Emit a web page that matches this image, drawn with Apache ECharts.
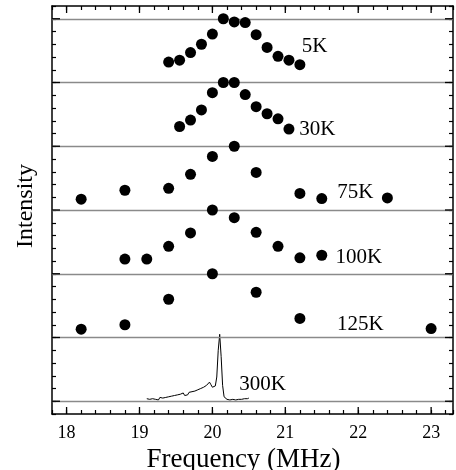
<!DOCTYPE html>
<html>
<head>
<meta charset="utf-8">
<script src="https://cdn.jsdelivr.net/npm/echarts@6/dist/echarts.min.js"></script>
<style>
html,body{margin:0;padding:0;background:#fff;}
#chart{width:456px;height:470px;}
</style>
</head>
<body>
<div id="chart"></div>
<script>
// ---- Data ----
const freq5K = [19.4, 19.55, 19.7, 19.85, 20.0, 20.15, 20.3, 20.45, 20.6, 20.75, 20.9, 21.05, 21.2];
const int5K  = [0.32, 0.35, 0.47, 0.60, 0.76, 1.00, 0.95, 0.94, 0.75, 0.55, 0.41, 0.35, 0.28];
const freq30K = [19.55, 19.7, 19.85, 20.0, 20.15, 20.3, 20.45, 20.6, 20.75, 20.9, 21.05];
const int30K  = [0.31, 0.41, 0.57, 0.84, 1.00, 1.00, 0.81, 0.62, 0.51, 0.43, 0.27];
const freq75K = [18.2, 18.8, 19.4, 19.7, 20.0, 20.3, 20.6, 21.2, 21.5, 22.4];
const int75K  = [0.17, 0.31, 0.34, 0.56, 0.84, 1.00, 0.59, 0.26, 0.18, 0.19];
const freq100K = [18.8, 19.1, 19.4, 19.7, 20.0, 20.3, 20.6, 20.9, 21.2, 21.5];
const int100K  = [0.23, 0.23, 0.43, 0.64, 1.00, 0.88, 0.65, 0.43, 0.25, 0.29];
const freq125K = [18.2, 18.8, 19.4, 20.0, 20.6, 21.2, 23.0];
const int125K  = [0.13, 0.20, 0.60, 1.00, 0.71, 0.30, 0.14];
const freq300K = [19.10,19.12,19.14,19.16,19.18,19.20,19.22,19.24,19.26,19.28,19.30,19.32,19.34,19.36,19.38,19.40,19.42,19.44,19.46,19.48,19.50,19.52,19.54,19.56,19.58,19.60,19.62,19.64,19.66,19.68,19.70,19.72,19.74,19.76,19.78,19.80,19.82,19.84,19.86,19.88,19.90,19.92,19.94,19.96,19.98,20.00,20.02,20.04,20.06,20.08,20.10,20.12,20.14,20.16,20.18,20.20,20.22,20.24,20.26,20.28,20.30,20.32,20.34,20.36,20.38,20.40,20.42,20.44,20.46,20.48,20.50];
const int300K  = [0.04,0.05,0.03,0.05,0.04,0.06,0.03,0.05,0.02,0.06,0.04,0.05,0.02,0.06,0.04,0.07,0.05,0.08,0.06,0.09,0.06,0.10,0.07,0.11,0.08,0.13,0.09,0.12,0.10,0.14,0.11,0.15,0.12,0.16,0.13,0.18,0.15,0.20,0.17,0.22,0.20,0.25,0.27,0.30,0.26,0.22,0.20,0.24,0.38,0.80,1.05,0.70,0.25,0.07,0.05,0.03,0.04,0.02,0.05,0.03,0.04,0.02,0.04,0.03,0.05,0.03,0.05,0.04,0.06,0.04,0.05];
const offsets = {'5K': 5, '30K': 4, '75K': 3, '100K': 2, '125K': 1, '300K': 0};
const labelText = ['5K', '30K', '75K', '100K', '125K', '300K'];
const labelFreq = [21.40, 21.44, 21.96, 22.01, 22.03, 20.69];
const labelInt  = [5.56, 4.27, 3.28, 2.25, 1.21, 0.27];
const freqTicks = [18, 19, 20, 21, 22, 23];
const baselines = [0, 1, 2, 3, 4, 5, 6];

// ---- Build ----
const FONT = 'Liberation Serif';
const XMIN = 17.8, XMAX = 23.3, YMIN = -0.2, YMAX = 6.2;

function pts(f, v, off) { return f.map((x, i) => [x, +(v[i] + off).toFixed(3)]); }

const tickStyle = {color: '#000', width: 1.2};
function xAx(pos, labels, extra) {
  return Object.assign({
    type: 'value', position: pos, min: XMIN, max: XMAX, interval: 0.2,
    axisLine: {show: true, onZero: false, lineStyle: {color: '#000', width: 1.5}},
    axisTick: {show: true, inside: true, length: 4, lineStyle: tickStyle},
    axisLabel: labels ? {customValues: freqTicks, fontFamily: FONT, fontSize: 18, color: '#000', margin: 10} : {show: false},
    splitLine: {show: false}
  }, extra || {});
}
function yAx(pos, extra) {
  return Object.assign({
    type: 'value', position: pos, min: YMIN, max: YMAX, interval: 0.2,
    axisLine: {show: true, onZero: false, lineStyle: {color: '#000', width: 1.5}},
    axisTick: {show: true, inside: true, length: 4, lineStyle: tickStyle},
    axisLabel: {show: false},
    splitLine: {show: false}
  }, extra || {});
}

const scatterSets = [
  ['5K', freq5K, int5K], ['30K', freq30K, int30K], ['75K', freq75K, int75K],
  ['100K', freq100K, int100K], ['125K', freq125K, int125K]
];
const series = scatterSets.map(s => ({
  type: 'scatter', name: s[0], data: pts(s[1], s[2], offsets[s[0]]),
  symbol: 'circle', symbolSize: 11, itemStyle: {color: '#000', opacity: 1}, silent: true, z: 5
}));
series.push({
  type: 'line', name: '300K', data: pts(freq300K, int300K, offsets['300K']),
  showSymbol: false, symbol: 'none', lineStyle: {color: '#000', width: 1}, z: 4, silent: true,
  markLine: {
    silent: true, symbol: 'none', animation: false,
    label: {show: false},
    lineStyle: {color: '#8a8a8a', width: 1.3, type: 'solid'},
    data: baselines.map(b => ({yAxis: b}))
  }
});
// major ticks on all four sides, placed through the axes' scales
const majorTickData = []
  .concat(freqTicks.map(v => [v, YMIN, 0]))
  .concat(freqTicks.map(v => [v, YMAX, 1]))
  .concat(baselines.map(v => [XMIN, v, 2]))
  .concat(baselines.map(v => [XMAX, v, 3]));
series.push({
  type: 'custom', silent: true, clip: false, z: 10,
  data: majorTickData,
  renderItem: function (params, api) {
    const p = api.coord([api.value(0), api.value(1)]);
    const d = api.value(2);
    let x2 = p[0], y2 = p[1];
    if (d === 0) y2 -= 7; else if (d === 1) y2 += 7; else if (d === 2) x2 += 8; else x2 -= 8;
    return {type: 'line', shape: {x1: p[0], y1: p[1], x2: x2, y2: y2},
            style: {stroke: '#000', lineWidth: 1.3}};
  }
});
series.push({
  type: 'scatter', name: 'labels', symbolSize: 0, silent: true, z: 6,
  itemStyle: {opacity: 1},
  data: labelText.map((t, i) => ({value: [labelFreq[i], labelInt[i]], name: t})),
  label: {show: true, position: 'inside', formatter: p => p.name,
          fontFamily: FONT, fontSize: 21, color: '#000', opacity: 1}
});

const option = {
  animation: false,
  backgroundColor: '#fff',
  textStyle: {fontFamily: FONT, color: '#000'},
  grid: {left: 52, right: 3, top: 6, bottom: 56, outerBoundsMode: 'none', containLabel: false},
  xAxis: [
    xAx('bottom', true, {
      name: 'Frequency (MHz)', nameLocation: 'middle', nameGap: 29,
      nameTextStyle: {fontFamily: FONT, fontSize: 27, color: '#000', padding: [0, 18, 0, 0]}
    }),
    xAx('top', false)
  ],
  yAxis: [
    yAx('left', {
      name: 'Intensity', nameLocation: 'middle', nameGap: 14, nameRotate: 90,
      nameTextStyle: {fontFamily: FONT, fontSize: 24, color: '#000', padding: [0, 0, 0, 8]}
    }),
    yAx('right')
  ],
  series: series
};
const chart = echarts.init(document.getElementById('chart'), null, {renderer: 'canvas'});
chart.setOption(option);
</script>
</body>
</html>
